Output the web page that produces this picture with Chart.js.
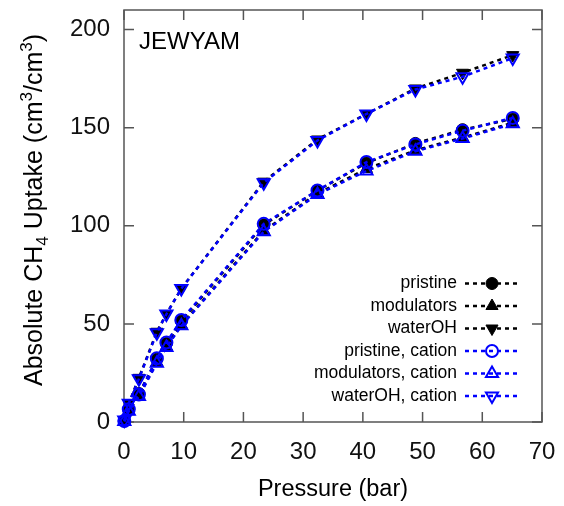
<!DOCTYPE html>
<html>
<head>
<meta charset="utf-8">
<script src="https://cdn.jsdelivr.net/npm/chart.js@4.4.0/dist/chart.umd.min.js"></script>
<style>
    html, body { margin: 0; padding: 0; background: #fff; }
    #wrap { width: 564px; height: 506px; }
</style>
</head>
<body>
<div id="wrap"><canvas id="chart" width="564" height="506"></canvas></div>
<script>
// Data
const pressure = [0.05, 0.8, 2.5, 5.5, 7.1, 9.6, 23.4, 32.4, 40.6, 48.8, 56.7, 65.1];

const pristine = [0.5, 6.5, 14.5, 32, 40, 51.5, 100.5, 118, 132, 142, 149, 154.5];
const modulators = [0.3, 5.5, 13.5, 30.5, 38.5, 49.5, 97.5, 116.5, 129, 138.5, 145, 152.5];
const waterOH = [1, 9.5, 22.5, 46, 55, 68, 122.5, 144, 157, 170, 178, 187];
const pristineCation = [0.5, 6.5, 14, 32.5, 40.5, 52, 101, 118, 132.5, 141.5, 148.5, 155];
const modulatorsCation = [0.3, 5.5, 13, 30, 38, 49, 97, 116, 128, 138, 144.5, 152];
const waterOHCation = [1, 9.5, 22, 45.5, 55, 68, 122, 143.5, 157, 169.5, 176, 185.5];

const seriesLabels = ['pristine', 'modulators', 'waterOH', 'pristine, cation', 'modulators, cation', 'waterOH, cation'];
const xTicks = [0, 10, 20, 30, 40, 50, 60, 70];
const yTicks = [0, 50, 100, 150, 200];

const FONT = "'Liberation Sans', Arial, sans-serif";
const BLUE = '#0000ff';

function toPoints(values) {
    return pressure.map((p, i) => ({ x: p, y: values[i] }));
}

// one series: dashed line + marker
function makeDataset(label, values, color, style, rotation, filled) {
    const isTri = style === 'triangle';
    return {
        label: label,
        data: toPoints(values),
        borderColor: color,
        borderWidth: 2.5,
        borderDash: [4, 4],
        pointStyle: style,
        pointRotation: rotation,
        pointRadius: isTri ? 7 : 6,
        pointHoverRadius: isTri ? 7 : 6,
        pointBackgroundColor: filled ? color : 'rgba(0,0,0,0)',
        pointBorderColor: color,
        pointBorderWidth: filled ? 1 : 2,
        order: filled ? 1 : 0,
        clip: false,
        tension: 0
    };
}

// keep the plot box exactly where the layout padding puts it
function fixScale(s) {
    s.paddingTop = 0;
    s.paddingBottom = 0;
    s.paddingLeft = 0;
    s.paddingRight = 0;
}

// frame, inward ticks, panel label
const framePlugin = {
    id: 'frameTicks',
    beforeDatasetsDraw(chart) {
        const { ctx, chartArea: a, scales: { x, y } } = chart;
        ctx.save();
        ctx.strokeStyle = '#555';
        ctx.lineWidth = 1.5;
        ctx.strokeRect(a.left, a.top, a.right - a.left, a.bottom - a.top);
        ctx.beginPath();
        x.ticks.forEach(t => {
            const px = x.getPixelForValue(t.value);
            ctx.moveTo(px, a.bottom); ctx.lineTo(px, a.bottom - 10);
            ctx.moveTo(px, a.top); ctx.lineTo(px, a.top + 10);
        });
        y.ticks.forEach(t => {
            const py = y.getPixelForValue(t.value);
            ctx.moveTo(a.left, py); ctx.lineTo(a.left + 10, py);
            ctx.moveTo(a.right, py); ctx.lineTo(a.right - 10, py);
        });
        ctx.stroke();

        ctx.font = '24px ' + FONT;
        ctx.fillStyle = '#000';
        ctx.textAlign = 'left';
        ctx.textBaseline = 'alphabetic';
        ctx.fillText('JEWYAM', a.left + 15, a.top + 38.5);
        ctx.restore();
    }
};

// legend inside the plot: text right-aligned, sample line + marker on the right
const legendPlugin = {
    id: 'insideLegend',
    afterDatasetsDraw(chart) {
        const { ctx, chartArea: a } = chart;
        ctx.save();
        ctx.font = '17.5px ' + FONT;
        ctx.textAlign = 'right';
        ctx.textBaseline = 'middle';
        chart.data.datasets.forEach((ds, i) => {
            const yy = a.top + 273.5 + i * 22.5;
            const textRight = a.right - 85;
            ctx.fillStyle = '#000';
            ctx.fillText(ds.label, textRight, yy);

            ctx.strokeStyle = ds.borderColor;
            ctx.lineWidth = ds.borderWidth;
            ctx.setLineDash(ds.borderDash);
            ctx.beginPath();
            ctx.moveTo(textRight + 8, yy);
            ctx.lineTo(textRight + 62, yy);
            ctx.stroke();

            ctx.setLineDash([]);
            ctx.fillStyle = ds.pointBackgroundColor;
            ctx.strokeStyle = ds.pointBorderColor;
            ctx.lineWidth = ds.pointBorderWidth;
            Chart.helpers.drawPoint(ctx, {
                pointStyle: ds.pointStyle,
                rotation: ds.pointRotation,
                radius: ds.pointRadius,
                borderWidth: ds.pointBorderWidth
            }, textRight + 35, yy);
        });
        ctx.restore();
    }
};

// y title with sub/superscripts
const yTitlePlugin = {
    id: 'yTitle',
    afterDraw(chart) {
        const ctx = chart.ctx;
        const segs = [
            ['Absolute CH', 25, 0], ['4', 17, 6], [' Uptake (cm', 25, 0],
            ['3', 17, -10], ['/cm', 25, 0], ['3', 17, -10], [')', 25, 0]
        ];
        ctx.save();
        ctx.fillStyle = '#000';
        ctx.textAlign = 'left';
        ctx.textBaseline = 'alphabetic';
        let total = 0;
        segs.forEach(s => { ctx.font = s[1] + 'px ' + FONT; total += ctx.measureText(s[0]).width; });
        ctx.translate(33, chart.chartArea.top + 200);
        ctx.rotate(-Math.PI / 2);
        let xx = -total / 2;
        segs.forEach(s => {
            ctx.font = s[1] + 'px ' + FONT;
            ctx.fillText(s[0], xx, 9 + s[2]);
            xx += ctx.measureText(s[0]).width;
        });
        ctx.restore();
    }
};

const datasets = [
    makeDataset(seriesLabels[0], pristine, '#000', 'circle', 0, true),
    makeDataset(seriesLabels[1], modulators, '#000', 'triangle', 0, true),
    makeDataset(seriesLabels[2], waterOH, '#000', 'triangle', 180, true),
    makeDataset(seriesLabels[3], pristineCation, BLUE, 'circle', 0, false),
    makeDataset(seriesLabels[4], modulatorsCation, BLUE, 'triangle', 0, false),
    makeDataset(seriesLabels[5], waterOHCation, BLUE, 'triangle', 180, false)
];

new Chart(document.getElementById('chart').getContext('2d'), {
    type: 'line',
    data: { datasets: datasets },
    options: {
        responsive: false,
        animation: false,
        devicePixelRatio: 1,
        layout: { padding: { top: 10, right: 22, left: 0, bottom: 0 } },
        plugins: {
            legend: { display: false },
            tooltip: { enabled: false }
        },
        scales: {
            x: {
                type: 'linear',
                min: 0,
                max: 70,
                afterFit: s => { s.height = 84; fixScale(s); },
                afterBuildTicks: s => { s.ticks = xTicks.map(v => ({ value: v })); },
                grid: { display: false, drawTicks: false },
                border: { display: false },
                ticks: { padding: 16, color: '#111', font: { size: 24, family: FONT }, maxRotation: 0, autoSkip: false },
                title: { display: true, text: 'Pressure (bar)', color: '#000', font: { size: 23.5, family: FONT }, padding: { top: 0, bottom: 2 } }
            },
            y: {
                type: 'linear',
                min: 0,
                max: 210,
                afterFit: s => { s.width = 124; fixScale(s); },
                afterBuildTicks: s => { s.ticks = yTicks.map(v => ({ value: v })); },
                grid: { display: false, drawTicks: false },
                border: { display: false },
                ticks: { padding: 14, color: '#111', font: { size: 24, family: FONT } }
            }
        }
    },
    plugins: [framePlugin, legendPlugin, yTitlePlugin]
});
</script>
</body>
</html>
